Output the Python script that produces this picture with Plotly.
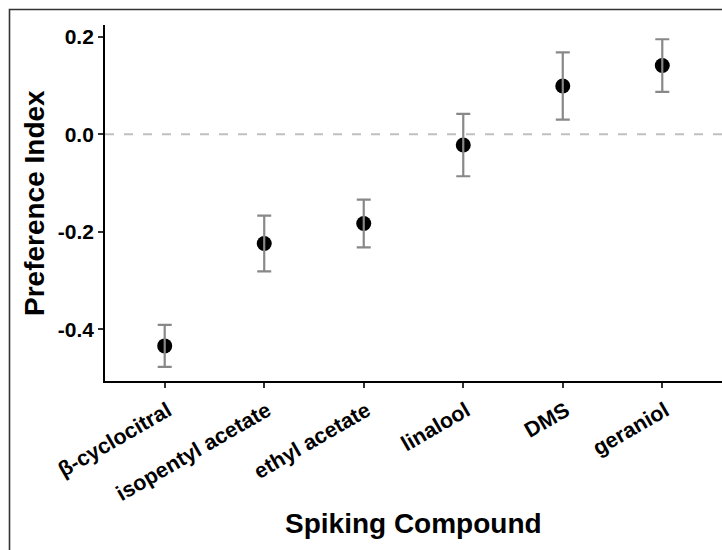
import plotly.graph_objects as go

compounds = ["β-cyclocitral", "isopentyl acetate", "ethyl acetate", "linalool", "DMS", "geraniol"]
pref_index = [-0.434, -0.224, -0.183, -0.022, 0.099, 0.141]
std_err = [0.043, 0.057, 0.049, 0.064, 0.069, 0.054]
y_ticks = [0.2, 0.0, -0.2, -0.4]
y_tick_text = ["0.2", "0.0", "-0.2", "-0.4"]

W, H = 722, 550
L, R, T, B = 105, 0, 25, 169
pw, ph = W - L - R, H - T - B

FONT = "Liberation Sans, Arial, sans-serif"

fig = go.Figure()
fig.add_trace(go.Scatter(
    x=compounds, y=pref_index, mode="markers",
    marker=dict(color="black", size=15),
    showlegend=False, hoverinfo="skip"))
fig.add_trace(go.Scatter(
    x=compounds, y=pref_index, mode="markers",
    marker=dict(color="rgba(0,0,0,0)", size=1),
    error_y=dict(type="data", array=std_err, visible=True, color="#888888", thickness=2.2, width=7),
    showlegend=False))

fig.add_hline(y=0, line=dict(color="#c0c0c0", width=2, dash="9px,10px"), layer="below")

def px_to_paper_x(px):
    return (px - L) / pw

def px_to_paper_y(py):
    return (H - B - py) / ph

# outer frame (cropped)
fig.add_shape(type="rect", xref="paper", yref="paper",
              x0=px_to_paper_x(9.5), x1=px_to_paper_x(760),
              y0=px_to_paper_y(600), y1=px_to_paper_y(9.5),
              line=dict(color="#333333", width=1.6), fillcolor="rgba(0,0,0,0)")

fig.add_annotation(text="<b>Preference Index</b>", xref="paper", yref="paper",
                   x=px_to_paper_x(34), y=px_to_paper_y(203), textangle=-90,
                   showarrow=False, font=dict(family=FONT, size=28, color="black"),
                   xanchor="center", yanchor="middle")
fig.add_annotation(text="<b>Spiking Compound</b>", xref="paper", yref="paper",
                   x=px_to_paper_x(413), y=px_to_paper_y(523),
                   showarrow=False, font=dict(family=FONT, size=28, color="black"),
                   xanchor="center", yanchor="middle")

fig.update_layout(
    width=W, height=H,
    margin=dict(l=L, r=R, t=T, b=B, autoexpand=False),
    paper_bgcolor="white", plot_bgcolor="white",
    font=dict(family=FONT, color="black"),
    xaxis=dict(
        range=[-0.6, 5.6], showgrid=False, zeroline=False,
        showline=True, linecolor="black", linewidth=1.8,
        ticks="outside", ticklen=5, tickwidth=1.8, tickcolor="#333333",
        tickangle=-30, ticklabelstandoff=2, ticklabelshift=3,
        tickfont=dict(family=FONT, size=21.5, color="black", weight="bold"),
        fixedrange=True,
    ),
    yaxis=dict(
        range=[-0.506, 0.2242], showgrid=False, zeroline=False,
        showline=True, linecolor="black", linewidth=1.8,
        ticks="outside", ticklen=5, tickwidth=1.8, tickcolor="#333333",
        tickvals=y_ticks, ticktext=y_tick_text, ticklabelstandoff=0,
        tickfont=dict(family=FONT, size=21, color="black", weight="bold"),
        fixedrange=True,
    ),
)

fig.write_html("out.html")
